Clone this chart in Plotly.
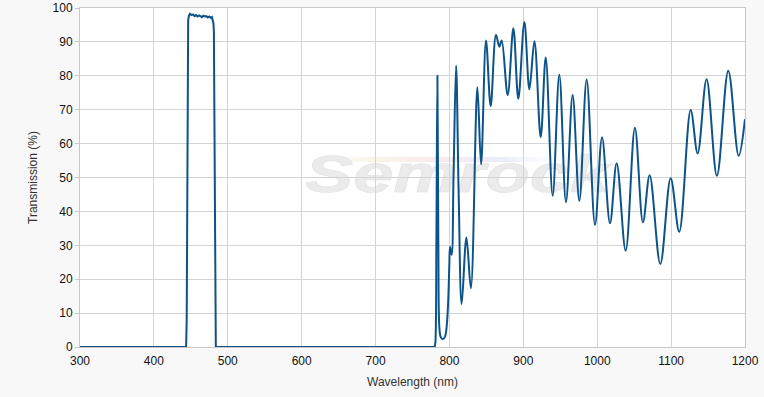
import base64
import plotly.graph_objects as go

# Bandpass + blocking region (linear segments)
band_wl = [300, 443.6, 444.4, 445.0, 445.6, 446.4, 447.5, 449, 451, 453, 455, 457, 459, 461,
           463, 465, 467, 469, 471, 473, 475, 477, 478.5, 479.6, 480.6, 481.2, 481.7,
           482.3, 483.0, 483.8, 780]
band_T = [0, 0, 8, 45, 88, 96.5, 97.8, 98.3, 97.9, 98.1, 97.6, 97.9, 97.5, 97.8,
          97.6, 97.3, 97.7, 97.5, 97.6, 97.2, 97.5, 97.1, 97.3, 96.6, 95.5, 93, 70,
          25, 5, 0, 0]

# Near-infrared interference region (smoothed)
nir_wl = [780, 781.0, 782.3, 783.7, 785.0, 786.3, 788.1, 790.8, 793.9, 796.2, 798.4,
          799.8, 800.8, 803.0, 805.5, 809.0, 812.5, 816.5, 823.0, 829.0, 837.8, 842.8,
          849.5, 855.8, 863.0, 867.5, 870.7, 878.8, 886.5, 893.2, 901.4, 908.2, 915.0,
          923.5, 930.3, 939.7, 948.7, 957.7, 966.7, 975.8, 985.7, 997.0, 1006.5,
          1017.3, 1026.3, 1038.5, 1051.0, 1061.9, 1071.0, 1085.4, 1099.4, 1111.0,
          1126.5, 1135.9, 1148.0, 1162.0, 1177.4, 1191.4, 1200]
nir_T = [0, 1.5, 30, 80, 30, 6, 3, 2.3, 3, 6, 14,
         24, 29.6, 27.2, 50, 83, 45, 12.7, 32.3, 17.3, 76.6, 53.9,
         90.4, 71.1, 92.1, 88.6, 90.4, 74.3, 94.0, 73.2, 95.9, 76.0, 90.2,
         61.9, 85.4, 44.6, 80.3, 42.7, 74.3, 43.1, 78.9, 36.0, 61.9,
         36.5, 54.2, 28.4, 64.7, 36.8, 50.7, 24.5, 49.8, 34.0,
         69.9, 57.1, 79.0, 50.5, 81.5, 56.4, 67.2]

x_ticks = [300, 400, 500, 600, 700, 800, 900, 1000, 1100, 1200]
y_ticks = [0, 10, 20, 30, 40, 50, 60, 70, 80, 90, 100]

LINE = "#0c5389"

fig = go.Figure()
fig.add_trace(go.Scatter(x=band_wl, y=band_T, mode="lines",
                         line=dict(color=LINE, width=2), hoverinfo="x+y"))
fig.add_trace(go.Scatter(x=nir_wl, y=nir_T, mode="lines",
                         line=dict(color=LINE, width=2, shape="spline", smoothing=1.0),
                         hoverinfo="x+y"))

# watermark (background logo text, stretched like the original)
svg = (
    "<svg xmlns='http://www.w3.org/2000/svg' width='330' height='60' viewBox='0 0 330 60'>"
    "<defs><linearGradient id='g' x1='0' x2='1' y1='0' y2='0'>"
    "<stop offset='0' stop-color='#ffffff' stop-opacity='0'/>"
    "<stop offset='0.25' stop-color='#f8f6e6'/>"
    "<stop offset='0.5' stop-color='#f8eaee'/>"
    "<stop offset='0.75' stop-color='#eaedf8'/>"
    "<stop offset='1' stop-color='#ffffff' stop-opacity='0'/>"
    "</linearGradient></defs>"
    "<rect x='0' y='12' width='270' height='5' fill='url(#g)'/>"
    "<text x='2' y='47' font-family='Liberation Sans, Arial, sans-serif' font-weight='bold' "
    "font-style='italic' font-size='51' fill='#ebebeb' stroke='#e2e2e2' stroke-width='0.6' "
    "textLength='305' lengthAdjust='spacingAndGlyphs'>Semrock</text>"
    "<text x='311' y='44' font-family='Liberation Sans, Arial, sans-serif' font-size='10' "
    "fill='#e6e6e6'>&#174;</text>"
    "</svg>"
)
svg_uri = "data:image/svg+xml;base64," + base64.b64encode(svg.encode("utf-8")).decode("ascii")
fig.add_layout_image(source=svg_uri, xref="paper", yref="paper",
                     x=(303 - 80) / 665, y=(347 - 145) / 339,
                     sizex=330 / 665, sizey=60 / 339, sizing="stretch",
                     xanchor="left", yanchor="top", layer="below")

fig.update_layout(
    width=764, height=397,
    margin=dict(l=80, r=19, t=8, b=50),
    paper_bgcolor="#f8f8f8", plot_bgcolor="#ffffff",
    showlegend=False,
    font=dict(family="Liberation Sans, Arial, sans-serif", size=12, color="#222"),
)
fig.update_xaxes(range=[300, 1200], tickvals=x_ticks, showgrid=True, gridcolor="#d4d4d4",
                 gridwidth=1, showline=True, linecolor="#c8c8c8", mirror=True, zeroline=False,
                 ticks="", tickfont=dict(size=12, color="#111"), automargin=False,
                 ticklabelstandoff=3,
                 title=dict(text="Wavelength (nm)", standoff=10, font=dict(size=12, color="#333")))
fig.update_yaxes(range=[0, 100], tickvals=y_ticks, showgrid=True, gridcolor="#d4d4d4",
                 gridwidth=1, showline=True, linecolor="#c8c8c8", mirror=True, zeroline=False,
                 ticks="outside", ticklen=4, tickcolor="#c8c8c8", automargin=False,
                 tickfont=dict(size=12, color="#111"),
                 title=dict(text="Transmission (%)", standoff=12, font=dict(size=12, color="#333")))

fig.write_html("out.html", config={"displayModeBar": False},
               post_script="document.body.style.margin='0';document.body.style.overflow='hidden';")
